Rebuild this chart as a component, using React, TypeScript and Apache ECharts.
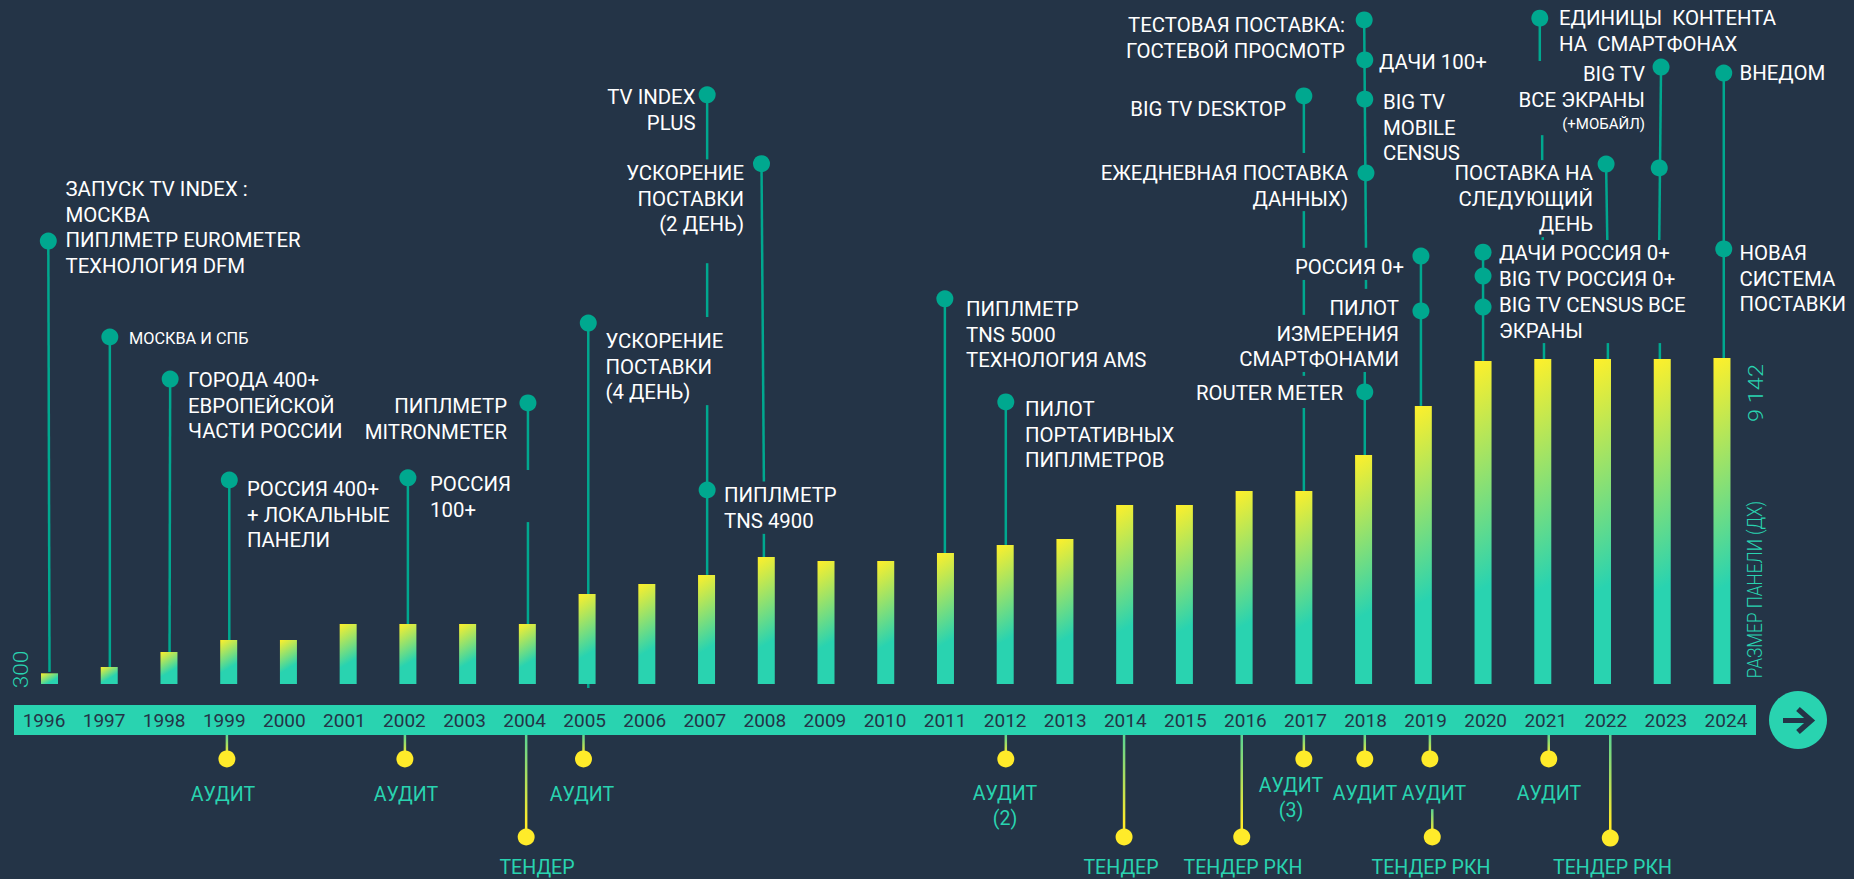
import React, { useEffect, useRef } from "react";
import * as echarts from "echarts";

const years = ["1996","1997","1998","1999","2000","2001","2002","2003","2004","2005","2006","2007","2008","2009","2010","2011","2012","2013","2014","2015","2016","2017","2018","2019","2020","2021","2022","2023","2024"];
const panelSize = [300,477,897,1234,1234,1682,1682,1682,1682,2524,2804,3056,3561,3449,3449,3673,3898,4066,5019,5019,5412,5412,6421,7795,9057,9113,9113,9113,9142];

// Milestone stems: [year, level, year, level], on the same scale as the panel size
const topStems = [
  [1995.98,12420,1996,340],[1997.01,9730,1997.01,480],[1998.02,8550,1998.01,900],[1999.01,5720,1999.01,1230],
  [2002,5780,2002,1680],[2004.01,7880,2004.01,6000],[2004.01,4540,2004.01,1680],[2005.02,10120,2005.02,-110],
  [2007.01,16520,2007.01,14710],[2007.01,11800,2007.01,10290],[2007.01,7820,2007.01,3060],
  [2007.92,14590,2007.96,5680],[2007.96,4210,2007.96,3560],[2010.99,10800,2010.99,3670],[2012.01,7910,2012.01,3900],
  [2017,16490,2017,14890],[2017,13260,2017,12230],[2017,11330,2017,10350],[2017,8750,2017,8640],[2017,7740,2017,5410],
  [2018.01,18620,2018.04,12230],[2018.04,11330,2018.04,11080],[2018.02,8750,2018.02,6420],
  [2018.96,12000,2018.96,7800],[2020,12110,2020,9060],
  [2020.95,18670,2020.95,17470],[2020.99,15390,2020.99,14690],[2021,12530,2021,12450],[2021.02,9560,2021.02,9110],
  [2022.06,14580,2022.08,12450],[2022.09,9560,2022.09,9110],
  [2022.98,17300,2022.95,12450],[2022.96,9560,2022.96,9110],[2024.03,17130,2024.03,9142],
];
const topDots = [
  [1995.98,12420],[1997.01,9730],[1998.02,8550],[1999.01,5720],[2002,5780],[2004.01,7880],[2005.02,10120],
  [2007.01,16520],[2007.01,5440],[2007.92,14590],[2010.99,10800],[2012.01,7910],[2017,16490],
  [2018.01,18620],[2018.02,17500],[2018.02,16400],[2018.04,14330],[2018.02,8190],[2018.96,12000],[2018.96,10460],
  [2020,12110],[2020,11440],[2020,10570],[2020.95,18670],[2022.06,14580],[2022.98,17300],[2022.95,14470],
  [2024.03,17130],[2024.03,12200],
];
const bottomStems = [
  [1998.97,-1430,1998.97,-2100],[2001.95,-1430,2001.95,-2100],[2003.98,-1430,2003.98,-4290],[2004.94,-1430,2004.94,-2100],
  [2012.01,-1430,2012.01,-2100],[2013.99,-1430,2013.99,-4290],[2015.96,-1430,2015.96,-4290],[2017,-1430,2017,-2100],
  [2018.02,-1430,2018.02,-2100],[2019.11,-1430,2019.11,-2100],[2019.15,-3510,2019.15,-4290],[2021.1,-1430,2021.1,-2100],
  [2022.13,-1430,2022.13,-4320],
];

const upperLabels = [
  "ЗАПУСК TV INDEX :\nМОСКВА\nПИПЛМЕТР EUROMETER\nТЕХНОЛОГИЯ DFM",
  "ГОРОДА 400+\nЕВРОПЕЙСКОЙ\nЧАСТИ РОССИИ",
  "ПИПЛМЕТР\nMITRONMETER",
  "РОССИЯ 400+\n+ ЛОКАЛЬНЫЕ\nПАНЕЛИ",
  "РОССИЯ\n100+",
  "УСКОРЕНИЕ\nПОСТАВКИ\n(4 ДЕНЬ)",
  "TV INDEX\nPLUS",
  "УСКОРЕНИЕ\nПОСТАВКИ\n(2 ДЕНЬ)",
  "ПИПЛМЕТР\nTNS 4900",
  "ПИПЛМЕТР\nTNS 5000\nТЕХНОЛОГИЯ AMS",
  "ПИЛОТ\nПОРТАТИВНЫХ\nПИПЛМЕТРОВ",
  "ТЕСТОВАЯ ПОСТАВКА:\nГОСТЕВОЙ ПРОСМОТР",
  "ДАЧИ 100+",
  "BIG TV DESKTOP",
  "BIG TV\nMOBILE\nCENSUS",
  "ЕЖЕДНЕВНАЯ ПОСТАВКА\nДАННЫХ)",
  "РОССИЯ 0+",
  "ПИЛОТ\nИЗМЕРЕНИЯ\nСМАРТФОНАМИ",
  "ROUTER METER",
  "ЕДИНИЦЫ  КОНТЕНТА\nНА  СМАРТФОНАХ",
  "BIG TV\nВСЕ ЭКРАНЫ",
  "ПОСТАВКА НА\nСЛЕДУЮЩИЙ\nДЕНЬ",
  "ДАЧИ РОССИЯ 0+",
  "BIG TV РОССИЯ 0+",
  "BIG TV CENSUS ВСЕ\nЭКРАНЫ",
  "ВНЕДОМ",
  "НОВАЯ\nСИСТЕМА\nПОСТАВКИ",
];
const lowerLabels = [
  "АУДИТ","АУДИТ","ТЕНДЕР","АУДИТ","АУДИТ\n(2)","ТЕНДЕР","ТЕНДЕР РКН","АУДИТ\n(3)","АУДИТ","АУДИТ","ТЕНДЕР РКН","АУДИТ","ТЕНДЕР РКН",
];

// Layout of the annotation texts (x, first-line centre y, alignment)
const upperPlace: [number, number, string][] = [
  [65.5,189,"left"],[188,380,"left"],[507,406,"right"],[247,489,"left"],[430,484,"left"],[605.5,341,"left"],
  [695.5,97,"right"],[744,173,"right"],[724,495,"left"],[966,309,"left"],[1025,409,"left"],[1345,25,"right"],
  [1379,62,"left"],[1286,109,"right"],[1383,102,"left"],[1348,173,"right"],[1404,267,"right"],[1399,308,"right"],
  [1343,393,"right"],[1559,18,"left"],[1645,74,"right"],[1593,173,"right"],[1499,253,"left"],[1499,279,"left"],
  [1499,305,"left"],[1739.5,73,"left"],[1739.5,253,"left"],
];
const lowerPlace: [number, number][] = [
  [223,794],[406,794],[537,867],[582,794],[1005,793],[1121,867],[1243,867],[1291,785],[1365,793],[1434,793],[1431,867],[1549,793],[1612.5,867],
];

const BG = "#243447";
const TEAL = "#29d3b0";
const DARKTEAL = "#00a88f";
const YELLOW = "#ffeb2a";
const WHITE = "#ffffff";
const FONT = "Roboto, sans-serif";

export default function App() {
  const ref = useRef<HTMLDivElement>(null);
  useEffect(() => {
    const chart = echarts.init(ref.current!, null, { renderer: "svg" });
    // Keeps the gradient's slant about the same on bars of any height
    const barFill = (v: number) => {
      const k = Math.min(0.9, 10 / (v / 28.04));
      return new echarts.graphic.LinearGradient(0, 0, k, 1, [
        { offset: 0, color: "#fff02a" },
        { offset: 0.72, color: TEAL },
        { offset: 1, color: TEAL },
      ]);
    };
    const LH = 25.5;
    const txt: any[] = [];
    upperLabels.forEach((t, i) => {
      const [x, y, align] = upperPlace[i];
      txt.push({ type: "text", x, y: y - LH / 2, silent: true, style: { text: t, fill: WHITE, font: `400 20.4px ${FONT}`, lineHeight: LH, align, verticalAlign: "top" } });
    });
    txt.push({ type: "text", x: 129, y: 338 - 10, style: { text: "МОСКВА И СПБ", fill: WHITE, font: `400 16.3px ${FONT}`, lineHeight: 20, align: "left", verticalAlign: "top" } });
    txt.push({ type: "text", x: 1645, y: 124 - 10, style: { text: "(+МОБАЙЛ)", fill: WHITE, font: `400 15px ${FONT}`, lineHeight: 20, align: "right", verticalAlign: "top" } });
    lowerLabels.forEach((t, i) => {
      const [x, y] = lowerPlace[i];
      const lh = t.includes("\n") ? LH : 20;
      txt.push({ type: "text", x, y: y - lh / 2, style: { text: t, fill: TEAL, font: `400 19.6px ${FONT}`, lineHeight: lh, align: "center", verticalAlign: "top" } });
    });
    const rot = (t: string, x: number, y: number, sx: number) => ({
      type: "text", x, y, rotation: Math.PI / 2, scaleX: sx,
      style: { text: t, fill: TEAL, font: `300 21px ${FONT}`, align: "center", verticalAlign: "middle" },
    });
    txt.push(rot("300", 21, 669.5, 1.08), rot("9 142", 1755, 393, 1.12), rot("РАЗМЕР ПАНЕЛИ (ДХ)", 1754.5, 589.5, 0.82));

    const stem = (color: (ay: number, by: number, x: number) => any) => (_: any, api: any) => {
      const a = api.coord([api.value(0), api.value(1)]);
      const b = api.coord([api.value(2), api.value(3)]);
      return {
        type: "line", silent: true,
        shape: { x1: a[0], y1: a[1], x2: b[0], y2: b[1] },
        style: { stroke: color(a[1], b[1], a[0]), lineWidth: 2.5 },
      };
    };

    chart.setOption({
      animation: false,
      backgroundColor: BG,
      grid: [
        { left: 19.64, width: 1732.2, top: 0, height: 879, show: false },
        { left: 14, width: 1742, top: 705, height: 30, show: true, backgroundColor: TEAL, borderWidth: 0 },
      ],
      xAxis: [
        { type: "category", data: years, gridIndex: 0, show: false },
        { type: "value", min: 1995.5, max: 2024.5, gridIndex: 0, show: false },
        {
          type: "category", data: years, gridIndex: 1, position: "bottom",
          axisLine: { show: false }, axisTick: { show: false }, splitLine: { show: false },
          axisLabel: { interval: 0, inside: true, margin: 5, color: BG, fontFamily: FONT, fontSize: 19, fontWeight: 400 },
        },
      ],
      yAxis: [
        { type: "value", min: -5468, max: 19180, gridIndex: 0, show: false },
        { type: "value", min: 0, max: 1, gridIndex: 1, show: false },
      ],
      series: [
        {
          type: "custom", xAxisIndex: 1, yAxisIndex: 0, z: 2, clip: false, data: topStems,
          encode: { x: [0, 2], y: [1, 3] },
          renderItem: stem(() => DARKTEAL),
        },
        {
          type: "custom", xAxisIndex: 1, yAxisIndex: 0, z: 2, clip: false, data: bottomStems,
          encode: { x: [0, 2], y: [1, 3] },
          renderItem: stem((ay, by, x) => new echarts.graphic.LinearGradient(x, ay, x, by, [
            { offset: 0, color: "#59d493" }, { offset: 0.85, color: YELLOW }, { offset: 1, color: YELLOW },
          ], true)),
        },
        {
          type: "bar", xAxisIndex: 0, yAxisIndex: 0, barWidth: 17, z: 3,
          data: panelSize.map((v) => ({ value: v, itemStyle: { color: barFill(v) } })),
        },
        {
          type: "scatter", xAxisIndex: 1, yAxisIndex: 0, data: topDots, symbolSize: 17, z: 4,
          itemStyle: { color: DARKTEAL, opacity: 1 },
        },
        {
          type: "scatter", xAxisIndex: 1, yAxisIndex: 0, symbolSize: 17, z: 4,
          data: bottomStems.map((s) => [s[2], s[3]]),
          itemStyle: { color: YELLOW, opacity: 1 },
        },
        { type: "bar", xAxisIndex: 2, yAxisIndex: 1, data: [], silent: true },
      ],
      graphic: [
        ...txt,
        { type: "circle", shape: { cx: 1798, cy: 720, r: 29 }, style: { fill: TEAL } },
        { type: "line", shape: { x1: 1783, y1: 720.5, x2: 1811, y2: 720.5 }, style: { stroke: BG, lineWidth: 5 } },
        { type: "polyline", shape: { points: [[1798, 709], [1811, 720.5], [1798, 732]] }, style: { stroke: BG, fill: "none", lineWidth: 5.5 } },
      ],
    });
    return () => chart.dispose();
  }, []);
  return <div ref={ref} style={{ position: "fixed", left: 0, top: 0, width: 1854, height: 879 }} />;
}
